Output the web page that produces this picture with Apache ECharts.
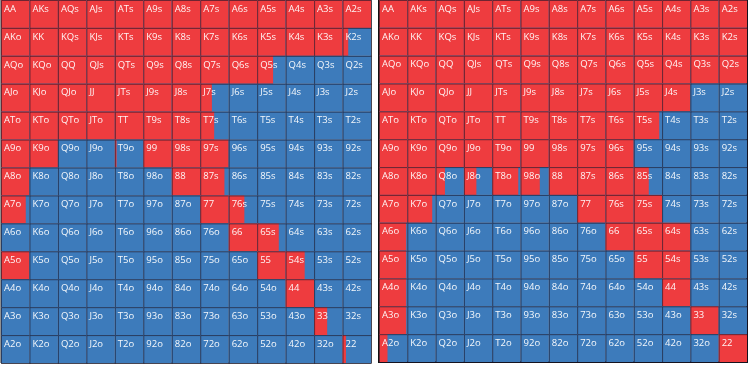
<!DOCTYPE html>
<html>
<head>
<meta charset="utf-8">
<script src="https://cdn.jsdelivr.net/npm/echarts@6/dist/echarts.min.js"></script>
<style>
  html, body { margin: 0; padding: 0; background: #fff; }
  #chart { width: 750px; height: 365px; }
</style>
</head>
<body>
<div id="chart"></div>
<script>
  // card ranks, rows and cols of both grids
  var ranks = ['A', 'K', 'Q', 'J', 'T', '9', '8', '7', '6', '5', '4', '3', '2'];

  // share of each cell painted red (rest blue), left chart
  var leftRange = [
    [1, 1, 1, 1, 1, 1, 1, 1, 1, 1, 1, 1, 1],
    [1, 1, 1, 1, 1, 1, 1, 1, 1, 1, 1, 1, 0.2],
    [1, 1, 1, 1, 1, 1, 1, 1, 1, 0.56, 0, 0, 0],
    [1, 1, 1, 1, 1, 1, 1, 0.41, 0, 0, 0, 0, 0],
    [1, 1, 1, 1, 1, 1, 1, 0.49, 0, 0, 0, 0, 0],
    [1, 1, 0, 0, 0.06, 1, 1, 1, 0, 0, 0, 0, 0],
    [1, 0, 0, 0, 0, 0, 1, 0.85, 0, 0, 0, 0, 0],
    [0.87, 0, 0, 0, 0, 0, 0, 1, 0.55, 0, 0, 0, 0],
    [0, 0, 0, 0, 0, 0, 0, 0, 1, 0.76, 0, 0, 0],
    [1, 0, 0, 0, 0, 0, 0, 0, 0, 1, 0.67, 0, 0],
    [0, 0, 0, 0, 0, 0, 0, 0, 0, 0, 1, 0, 0],
    [0, 0, 0, 0, 0, 0, 0, 0, 0, 0, 0, 0.46, 0],
    [0, 0, 0, 0, 0, 0, 0, 0, 0, 0, 0, 0, 0.12]
  ];

  // same for the right chart
  var rightRange = [
    [1, 1, 1, 1, 1, 1, 1, 1, 1, 1, 1, 1, 1],
    [1, 1, 1, 1, 1, 1, 1, 1, 1, 1, 1, 1, 1],
    [1, 1, 1, 1, 1, 1, 1, 1, 1, 1, 1, 1, 1],
    [1, 1, 1, 1, 1, 1, 1, 1, 1, 1, 1, 0, 0],
    [1, 1, 1, 1, 1, 1, 1, 1, 1, 0.9, 0, 0, 0],
    [1, 1, 1, 1, 1, 1, 1, 1, 1, 0, 0, 0, 0],
    [1, 1, 0.33, 0.44, 0.92, 0.68, 1, 1, 1, 0.53, 0, 0, 0],
    [1, 0.88, 0, 0, 0, 0, 0, 1, 1, 1, 0, 0, 0],
    [0.96, 0, 0, 0, 0, 0, 0, 0, 1, 1, 1, 0, 0],
    [0.96, 0, 0, 0, 0, 0, 0, 0, 0, 1, 1, 0, 0],
    [0.96, 0, 0, 0, 0, 0, 0, 0, 0, 0, 1, 0, 0],
    [0.96, 0, 0, 0, 0, 0, 0, 0, 0, 0, 0, 1, 0],
    [0.3, 0, 0, 0, 0, 0, 0, 0, 0, 0, 0, 0, 1]
  ];

  var RED = '#ee3c3f';
  var BLUE = '#3d7bbb';
  var LINE = 'rgba(25,20,40,0.6)';

  function handName(row, col) {
    if (row === col) return ranks[row] + ranks[col];
    if (col > row) return ranks[row] + ranks[col] + 's';
    return ranks[col] + ranks[row] + 'o';
  }

  function toData(range) {
    var out = [];
    for (var r = 0; r < 13; r++) {
      for (var c = 0; c < 13; c++) {
        out.push([c, r, range[r][c]]);
      }
    }
    return out;
  }

  function renderItem(params, api) {
    var col = api.value(0), row = api.value(1), f = api.value(2);
    var c = api.coord([col, row]);
    var s = api.size([1, 1]);
    var x = c[0] - s[0] / 2, y = c[1] - s[1] / 2, w = s[0], h = s[1];
    return {
      type: 'group',
      children: [
        { type: 'rect', shape: { x: x, y: y, width: w, height: h }, style: { fill: BLUE } },
        { type: 'rect', shape: { x: x, y: y, width: w * f, height: h }, style: { fill: RED } },
        { type: 'rect', shape: { x: x + 0.5, y: y + 0.5, width: w, height: h },
          style: { fill: null, stroke: LINE, lineWidth: 1 } },
        { type: 'text', x: x + 3, y: y + 4,
          style: { text: handName(row, col), fill: 'rgba(255,255,255,0.95)', fontSize: 9.5,
                   fontFamily: 'Open Sans' } }
      ]
    };
  }

  var chart = echarts.init(document.getElementById('chart'));
  chart.setOption({
    animation: false,
    grid: [
      { left: 1, top: 0, width: 370, height: 363, show: true, borderColor: '#222', borderWidth: 1 },
      { left: 379, top: 0, width: 368, height: 362, show: true, borderColor: '#111', borderWidth: 2 }
    ],
    xAxis: [
      { type: 'category', gridIndex: 0, data: ranks, show: false },
      { type: 'category', gridIndex: 1, data: ranks, show: false }
    ],
    yAxis: [
      { type: 'category', gridIndex: 0, data: ranks, inverse: true, show: false },
      { type: 'category', gridIndex: 1, data: ranks, inverse: true, show: false }
    ],
    series: [
      {
        type: 'custom', xAxisIndex: 0, yAxisIndex: 0,
        renderItem: renderItem, data: toData(leftRange)
      },
      {
        type: 'custom', xAxisIndex: 1, yAxisIndex: 1,
        renderItem: renderItem, data: toData(rightRange)
      }
    ]
  });
</script>
</body>
</html>
